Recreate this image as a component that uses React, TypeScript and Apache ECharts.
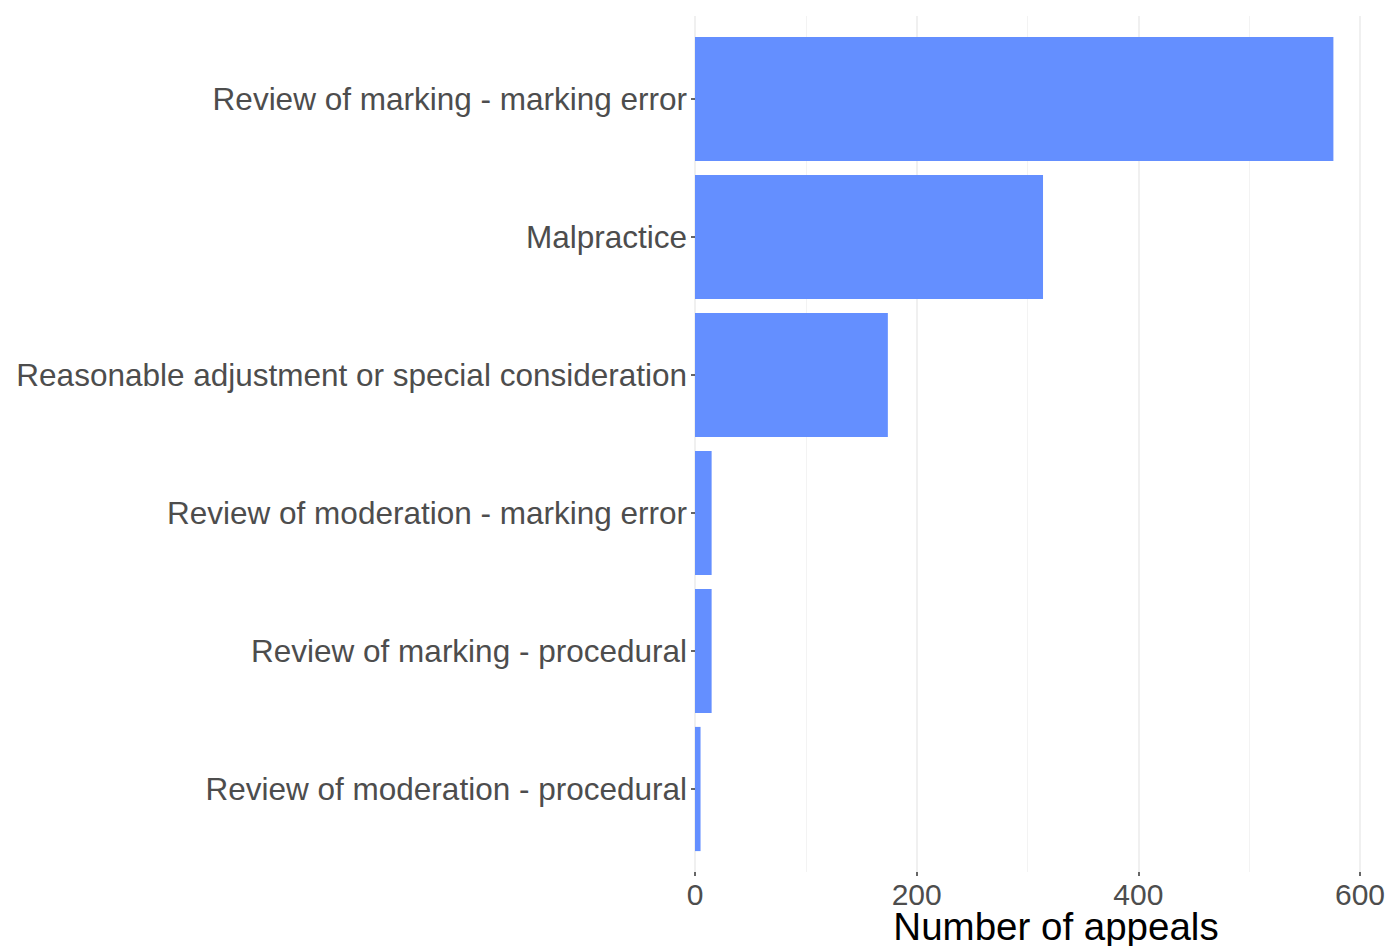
import React, { useEffect, useRef } from "react";
import * as echarts from "echarts";

const categories = [
  "Review of marking - marking error",
  "Malpractice",
  "Reasonable adjustment or special consideration",
  "Review of moderation - marking error",
  "Review of marking - procedural",
  "Review of moderation - procedural",
];
const appeals = [576, 314, 174, 15, 15, 5];
const xTicks = [0, 200, 400, 600];
const xTitle = "Number of appeals";

const FONT = "'Liberation Sans', Arial, sans-serif";

export default function App() {
  const ref = useRef<HTMLDivElement>(null);
  useEffect(() => {
    if (!ref.current) return;
    const chart = echarts.init(ref.current, null, { renderer: "svg" });
    const left = 695;
    const right = 1388 - 1360;
    chart.setOption({
      animation: false,
      backgroundColor: "#ffffff",
      grid: [
        { left, right, top: 16, bottom: 946 - 872 },
        { left, right, top: 30, bottom: 946 - 858 },
      ],
      xAxis: [
        {
          gridIndex: 0,
          type: "value",
          min: xTicks[0],
          max: xTicks[xTicks.length - 1],
          interval: 200,
          axisLine: { show: false },
          axisTick: { show: true, length: 4, lineStyle: { color: "#333333", width: 1.5 } },
          axisLabel: {
            margin: 7,
            color: "#4D4D4D",
            fontSize: 30,
            fontFamily: FONT,
            showMaxLabel: true,
          },
          splitLine: { show: true, lineStyle: { color: "#EBEBEB", width: 1.5 } },
          minorTick: { show: false, splitNumber: 2 },
          minorSplitLine: { show: true, lineStyle: { color: "#F3F3F3", width: 1 } },
        },
        {
          gridIndex: 1,
          type: "value",
          min: xTicks[0],
          max: xTicks[xTicks.length - 1],
          show: false,
          splitLine: { show: false },
        },
      ],
      yAxis: [
        {
          gridIndex: 0,
          type: "category",
          data: categories,
          show: false,
        },
        {
          gridIndex: 1,
          type: "category",
          data: categories,
          inverse: true,
          axisLine: { show: false },
          axisTick: { show: true, length: 4, alignWithLabel: true, lineStyle: { color: "#333333", width: 1.5 } },
          axisLabel: {
            margin: 8,
            color: "#4D4D4D",
            fontSize: 31.5,
            fontFamily: FONT,
          },
          splitLine: { show: false },
        },
      ],
      graphic: [
        {
          type: "text",
          x: 1056,
          y: 926,
          style: {
            text: xTitle,
            fill: "#000000",
            font: `38.5px ${FONT}`,
            textAlign: "center",
            textVerticalAlign: "middle",
          },
        },
      ],
      series: [
        {
          type: "bar",
          xAxisIndex: 1,
          yAxisIndex: 1,
          data: appeals,
          barCategoryGap: "10%",
          itemStyle: { color: "#648FFF" },
        },
      ],
    });
    return () => chart.dispose();
  }, []);
  return <div ref={ref} style={{ width: 1388, height: 946, position: "absolute", left: 0, top: 0 }} />;
}
